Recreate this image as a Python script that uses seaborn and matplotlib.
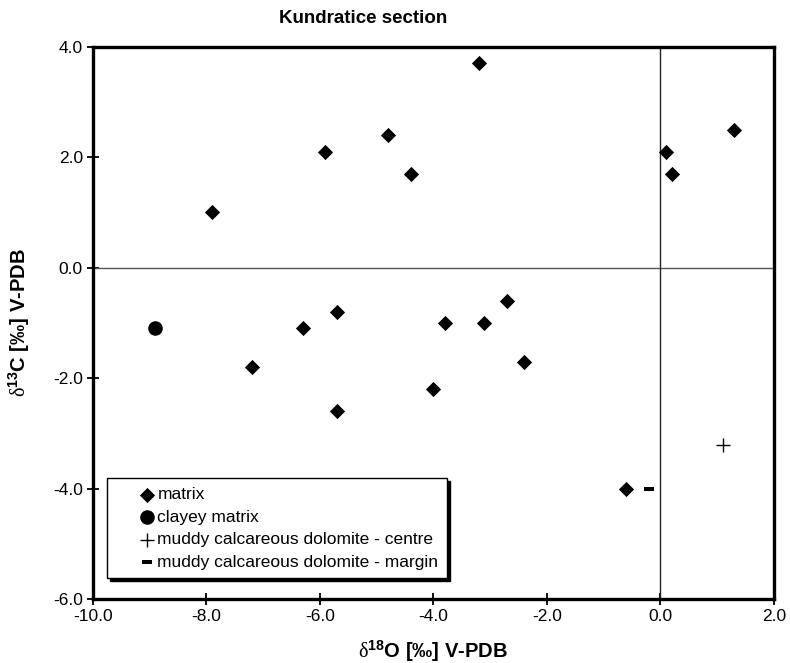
import numpy as np
import pandas as pd
import seaborn as sns
import matplotlib
matplotlib.use("Agg")
import matplotlib.pyplot as plt
from matplotlib.ticker import FormatStrFormatter

# ---- data ----
matrix_d18O = [-3.2, -4.8, -5.9, -4.4, -7.9, 0.1, 0.2, 1.3, -5.7, -6.3,
               -3.8, -3.1, -2.7, -2.4, -4.0, -7.2, -5.7, -0.6]
matrix_d13C = [3.7, 2.4, 2.1, 1.7, 1.0, 2.1, 1.7, 2.5, -0.8, -1.1,
               -1.0, -1.0, -0.6, -1.7, -2.2, -1.8, -2.6, -4.0]
clayey_d18O = [-8.9]
clayey_d13C = [-1.1]
centre_d18O = [1.1]
centre_d13C = [-3.2]
margin_d18O = [-0.2]
margin_d13C = [-4.0]

labels = ["matrix", "clayey matrix",
          "muddy calcareous dolomite - centre",
          "muddy calcareous dolomite - margin"]
x_ticks = [-10.0, -8.0, -6.0, -4.0, -2.0, 0.0, 2.0]
y_ticks = [-6.0, -4.0, -2.0, 0.0, 2.0, 4.0]

sns.set_theme(style="white")
plt.rcParams["font.family"] = ["Liberation Sans", "DejaVu Sans"]
plt.rcParams["axes.unicode_minus"] = False
plt.rcParams["mathtext.fontset"] = "custom"
plt.rcParams["mathtext.rm"] = "Liberation Serif"
plt.rcParams["mathtext.it"] = "Liberation Serif:italic"
plt.rcParams["mathtext.bf"] = "Liberation Sans:bold"

fig = plt.figure(figsize=(7.9, 6.63), dpi=100)
ax = fig.add_axes([0.1173, 0.0962, 0.8624, 0.8334])

# reference lines at zero
ax.axhline(0, color="#555555", lw=1.0, zorder=1)
ax.axvline(0, color="#222222", lw=1.0, zorder=1)

dash = [(-1, -0.45), (1, -0.45), (1, 0.45), (-1, 0.45), (-1, -0.45)]

df_m = pd.DataFrame({"x": matrix_d18O, "y": matrix_d13C})
df_c = pd.DataFrame({"x": clayey_d18O, "y": clayey_d13C})
df_ce = pd.DataFrame({"x": centre_d18O, "y": centre_d13C})
df_ma = pd.DataFrame({"x": margin_d18O, "y": margin_d13C})

sns.scatterplot(data=df_m, x="x", y="y", marker="D", s=60, color="black",
                edgecolor="black", linewidth=0, label=labels[0], ax=ax, zorder=3)
sns.scatterplot(data=df_c, x="x", y="y", marker="o", s=110, color="black",
                edgecolor="black", linewidth=0, label=labels[1], ax=ax, zorder=3)
sns.scatterplot(data=df_ce, x="x", y="y", marker="+", s=95, color="black",
                linewidth=1.0, label=labels[2], ax=ax, zorder=3)
sns.scatterplot(data=df_ma, x="x", y="y", marker=dash, s=42, color="black",
                edgecolor="black", linewidth=0, label=labels[3], ax=ax, zorder=3)

ax.set_xlim(-10, 2)
ax.set_ylim(-6, 4)
ax.set_xticks(x_ticks)
ax.set_yticks(y_ticks)
ax.xaxis.set_major_formatter(FormatStrFormatter("%.1f"))
ax.yaxis.set_major_formatter(FormatStrFormatter("%.1f"))
ax.tick_params(axis="both", which="major", direction="inout", length=8,
               width=1.3, color="black", labelsize=12.5, labelcolor="black",
               pad=3, bottom=True, left=True)
for sp in ax.spines.values():
    sp.set_linewidth(2.4)
    sp.set_color("black")
    sp.set_visible(True)

ax.set_xlabel(r"$\mathrm{\delta}^{\mathbf{18}}$O [‰] V-PDB", fontsize=14.5,
              fontweight="bold", color="black")
ax.set_ylabel(r"$\mathrm{\delta}^{\mathbf{13}}$C [‰] V-PDB", fontsize=14.5,
              fontweight="bold", color="black")
ax.xaxis.set_label_coords(0.5, -0.072)
ax.yaxis.set_label_coords(-0.089, 0.5)
fig.text(0.46, 0.972, "Kundratice section", ha="center", va="center",
         fontsize=13.5, fontweight="bold", color="black")

leg = ax.legend(loc="lower left", bbox_to_anchor=(0.021, 0.038),
                frameon=True, fancybox=False,
                shadow={"color": "black", "alpha": 1.0},
                edgecolor="black", framealpha=1, fontsize=12.5,
                handlelength=3.6, handletextpad=-1.2, labelspacing=0.42,
                borderpad=0.5, borderaxespad=0)
leg.get_frame().set_linewidth(1.0)
for t in leg.get_texts():
    t.set_color("black")

fig.savefig("out.png", dpi=100)
